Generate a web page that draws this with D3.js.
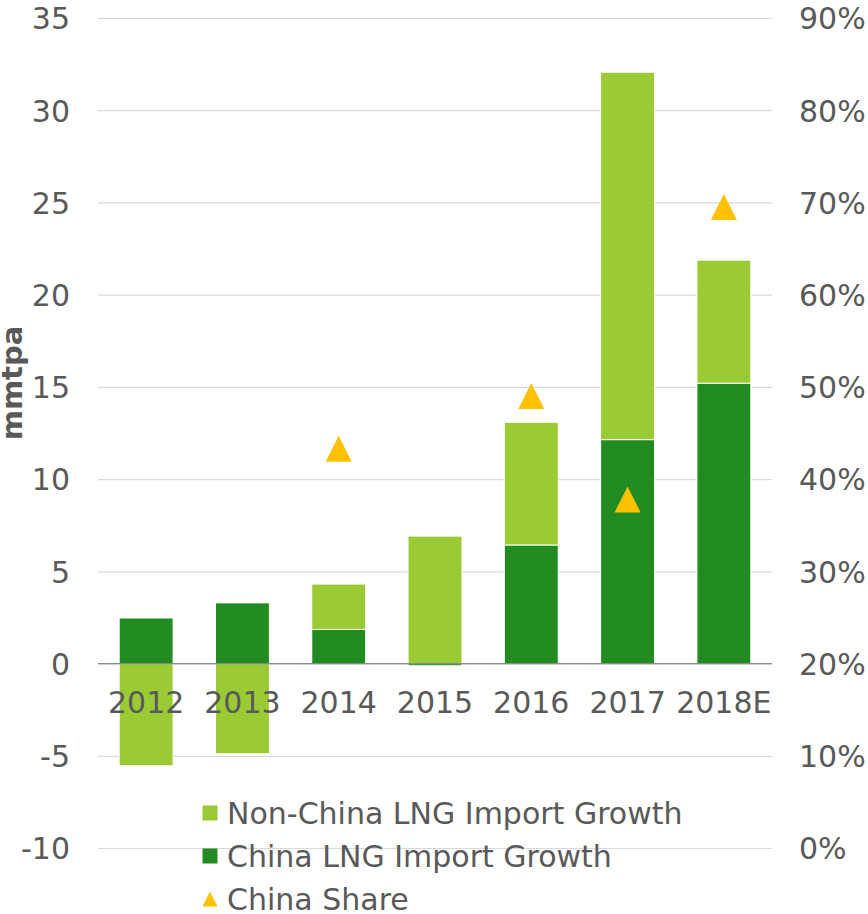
<!DOCTYPE html>
<html>
<head>
<meta charset="utf-8">
<script src="https://cdn.jsdelivr.net/npm/d3@7"></script>
<style>
  body { margin: 0; background: #fff; }
  text { font-family: "DejaVu Sans", Verdana, sans-serif; fill: #595959; }
</style>
</head>
<body>
<div id="chart"></div>
<script>
// values
var categories = ["2012", "2013", "2014", "2015", "2016", "2017", "2018E"];
var chinaGrowth = [2.47, 3.29, 1.85, -0.12, 6.43, 12.14, 15.2];
var nonChinaGrowth = [-5.54, -4.89, 2.46, 6.91, 6.65, 19.92, 6.67];
var chinaShare = [null, null, 43.3, null, 49.0, 37.8, 69.5];
var leftTicks = [-10, -5, 0, 5, 10, 15, 20, 25, 30, 35];
var rightTicks = [0, 10, 20, 30, 40, 50, 60, 70, 80, 90];

var width = 868, height = 914;
// "top" is taken by window.top, so plot edges get their own names
var plotLeft = 98, plotRight = 772, plotTop = 18, plotBottom = 848;

var svg = d3.select("#chart").append("svg")
    .attr("width", width)
    .attr("height", height);

var x = d3.scaleBand().domain(categories).range([plotLeft, plotRight]).paddingInner(0.44).paddingOuter(0.22);
var y = d3.scaleLinear().domain([-10, 35]).range([plotBottom, plotTop]);
var y2 = d3.scaleLinear().domain([0, 90]).range([plotBottom, plotTop]);

// left axis + gridlines (plain hyphen for negatives, like the original)
var gLeft = svg.append("g")
    .attr("transform", "translate(" + plotLeft + ",0)")
    .call(d3.axisLeft(y).tickValues(leftTicks).tickSize(-(plotRight - plotLeft)).tickPadding(28)
        .tickFormat(function(d) { return String(d); }));
gLeft.select(".domain").remove();
gLeft.selectAll("line").attr("stroke", "#d9d9d9").attr("stroke-width", 1.2);
gLeft.selectAll("text").attr("font-size", 30).attr("dy", "0.36em").attr("fill", "#595959");

// right axis
var gRight = svg.append("g")
    .attr("transform", "translate(" + plotRight + ",0)")
    .call(d3.axisRight(y2).tickValues(rightTicks).tickSize(0).tickPadding(27).tickFormat(function(d) { return d + "%"; }));
gRight.select(".domain").remove();
gRight.selectAll("text").attr("font-size", 30).attr("dy", "0.36em").attr("fill", "#595959");

// stacked bars, China at the bottom
var rows = categories.map(function(c, i) {
    return { cat: c, china: chinaGrowth[i], nonChina: nonChinaGrowth[i] };
});
var stack = d3.stack().keys(["china", "nonChina"]).offset(d3.stackOffsetDiverging);
var colors = { china: "#228B22", nonChina: "#9ACB34" };

svg.append("g").selectAll("g")
    .data(stack(rows))
    .enter().append("g")
    .attr("fill", function(d) { return colors[d.key]; })
    .selectAll("rect")
    .data(function(d) { return d; })
    .enter().append("rect")
    .attr("x", function(d) { return x(d.data.cat); })
    .attr("width", x.bandwidth())
    .attr("y", function(d) { return y(Math.max(d[0], d[1])); })
    .attr("height", function(d) { return Math.abs(y(d[0]) - y(d[1])); })
    .attr("stroke", "#ffffff")
    .attr("stroke-width", 1);

// zero line
svg.append("line")
    .attr("x1", plotLeft).attr("x2", plotRight)
    .attr("y1", y(0)).attr("y2", y(0))
    .attr("stroke", "#8a8a8a")
    .attr("stroke-width", 1.3);

// category labels
svg.append("g").selectAll("text")
    .data(categories)
    .enter().append("text")
    .attr("x", function(d) { return x(d) + x.bandwidth() / 2; })
    .attr("y", 713)
    .attr("text-anchor", "middle")
    .attr("font-size", 30)
    .text(function(d) { return d; });

// China share triangles
var tri = "M0,-13L13,13L-13,13Z";
svg.append("g").selectAll("path")
    .data(categories.map(function(c, i) { return { cat: c, v: chinaShare[i] }; })
        .filter(function(d) { return d.v != null; }))
    .enter().append("path")
    .attr("d", tri)
    .attr("fill", "#FFC000")
    .attr("transform", function(d) {
        return "translate(" + (x(d.cat) + x.bandwidth() / 2) + "," + y2(d.v) + ")";
    });

// y axis title
svg.append("text")
    .attr("transform", "translate(22,383) rotate(-90)")
    .attr("text-anchor", "middle")
    .attr("font-size", 29)
    .attr("font-weight", "bold")
    .text("mmtpa");

// legend
var legend = [
    { name: "Non-China LNG Import Growth", type: "rect", color: colors.nonChina },
    { name: "China LNG Import Growth", type: "rect", color: colors.china },
    { name: "China Share", type: "tri", color: "#FFC000" }
];
var lg = svg.append("g").selectAll("g")
    .data(legend)
    .enter().append("g")
    .attr("transform", function(d, i) { return "translate(210," + (813 + i * 43) + ")"; });
lg.filter(function(d) { return d.type == "rect"; })
    .append("rect")
    .attr("x", -7.5).attr("y", -7.5)
    .attr("width", 15).attr("height", 15)
    .attr("fill", function(d) { return d.color; });
lg.filter(function(d) { return d.type == "tri"; })
    .append("path")
    .attr("d", "M0,-7.5L7.5,7.5L-7.5,7.5Z")
    .attr("fill", function(d) { return d.color; });
lg.append("text")
    .attr("x", 17)
    .attr("y", 11)
    .attr("font-size", 30)
    .text(function(d) { return d.name; });
</script>
</body>
</html>
